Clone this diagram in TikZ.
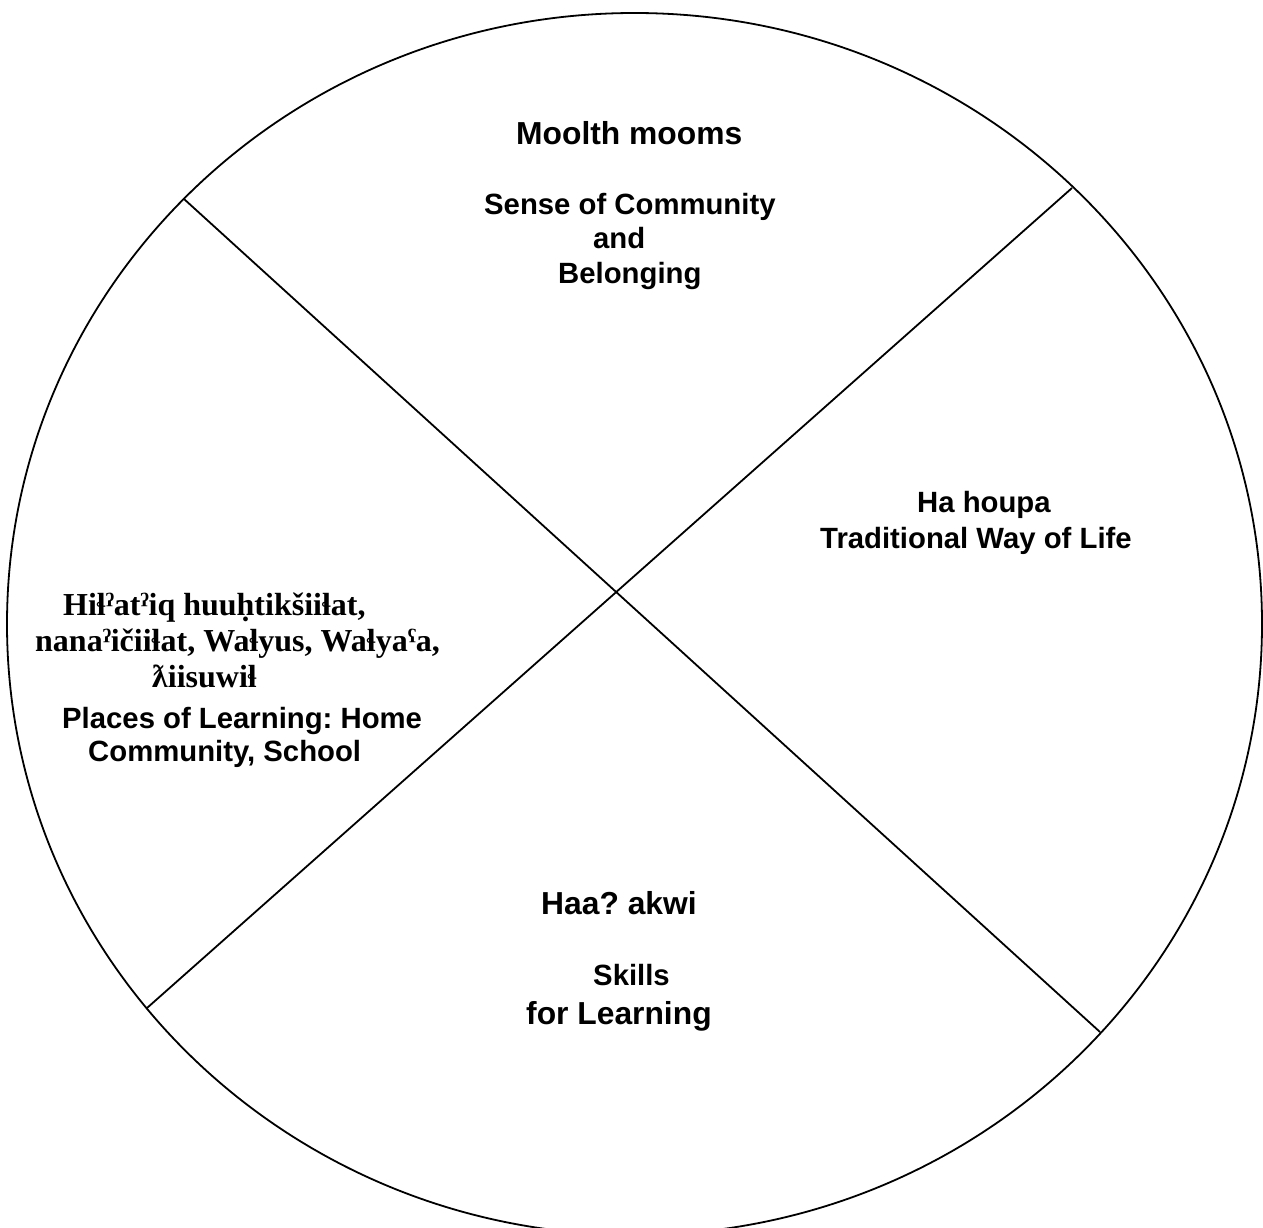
\documentclass[tikz,border=0pt]{standalone}
\usepackage{fontspec}
\setmainfont{Liberation Serif}
\setsansfont{Liberation Sans}
\frenchspacing
\begin{document}
\begin{tikzpicture}[x=1pt,y=-1pt,
  lbl/.style={font=\sffamily\bfseries\fontsize{29.3}{34.5}\selectfont, inner sep=0pt, anchor=base west},
  biglbl/.style={font=\sffamily\bfseries\fontsize{31.8}{37}\selectfont, inner sep=0pt, anchor=base west},
  nlbl/.style={font=\rmfamily\bfseries\fontsize{32}{36}\selectfont, inner sep=0pt, anchor=base west},
  edge/.style={line width=1.8pt, black}]
\useasboundingbox (0,0) rectangle (1263,1228);
\begin{scope}
\clip (0,0) rectangle (1263,1228);
\draw[edge] (634.5,624) ellipse [x radius=627.5, y radius=611];
\end{scope}
\coordinate (tl) at (184,199);
\coordinate (tr) at (1072,188);
\coordinate (bl) at (147,1008);
\coordinate (br) at (1100,1032);
\draw[edge] (tl) -- (br);
\draw[edge] (tr) -- (bl);
% top
\node[biglbl] (t1) at (516,144) {Moolth mooms};
\node[lbl] (t2) at (484,214) {Sense of Community};
\node[lbl] (t3) at (593,248) {and};
\node[lbl] (t4) at (558,283) {Belonging};
% right
\node[lbl] (r1) at (917,512) {Ha houpa};
\node[lbl] (r2) at (820,548) {Traditional Way of Life};
% bottom
\node[biglbl] (b1) at (541,914) {Haa? akwi};
\node[lbl] (b2) at (593,985) {Skills};
\node[biglbl] (b3) at (526,1024) {for Learning};
% left
\node[nlbl] (l1) at (63,615) {Hiɬˀatˀiq huuḥtikšiiɬat,};
\node[nlbl] (l2) at (35,651) {nanaˀičiiɬat, Waɬyus, Waɬyaˁa,};
\node[nlbl] (l3) at (152,687) {ƛiisuwiɬ};
\node[lbl] (l4) at (62,728) {Places of Learning: Home};
\node[lbl] (l5) at (88,761) {Community, School};
\end{tikzpicture}
\end{document}
